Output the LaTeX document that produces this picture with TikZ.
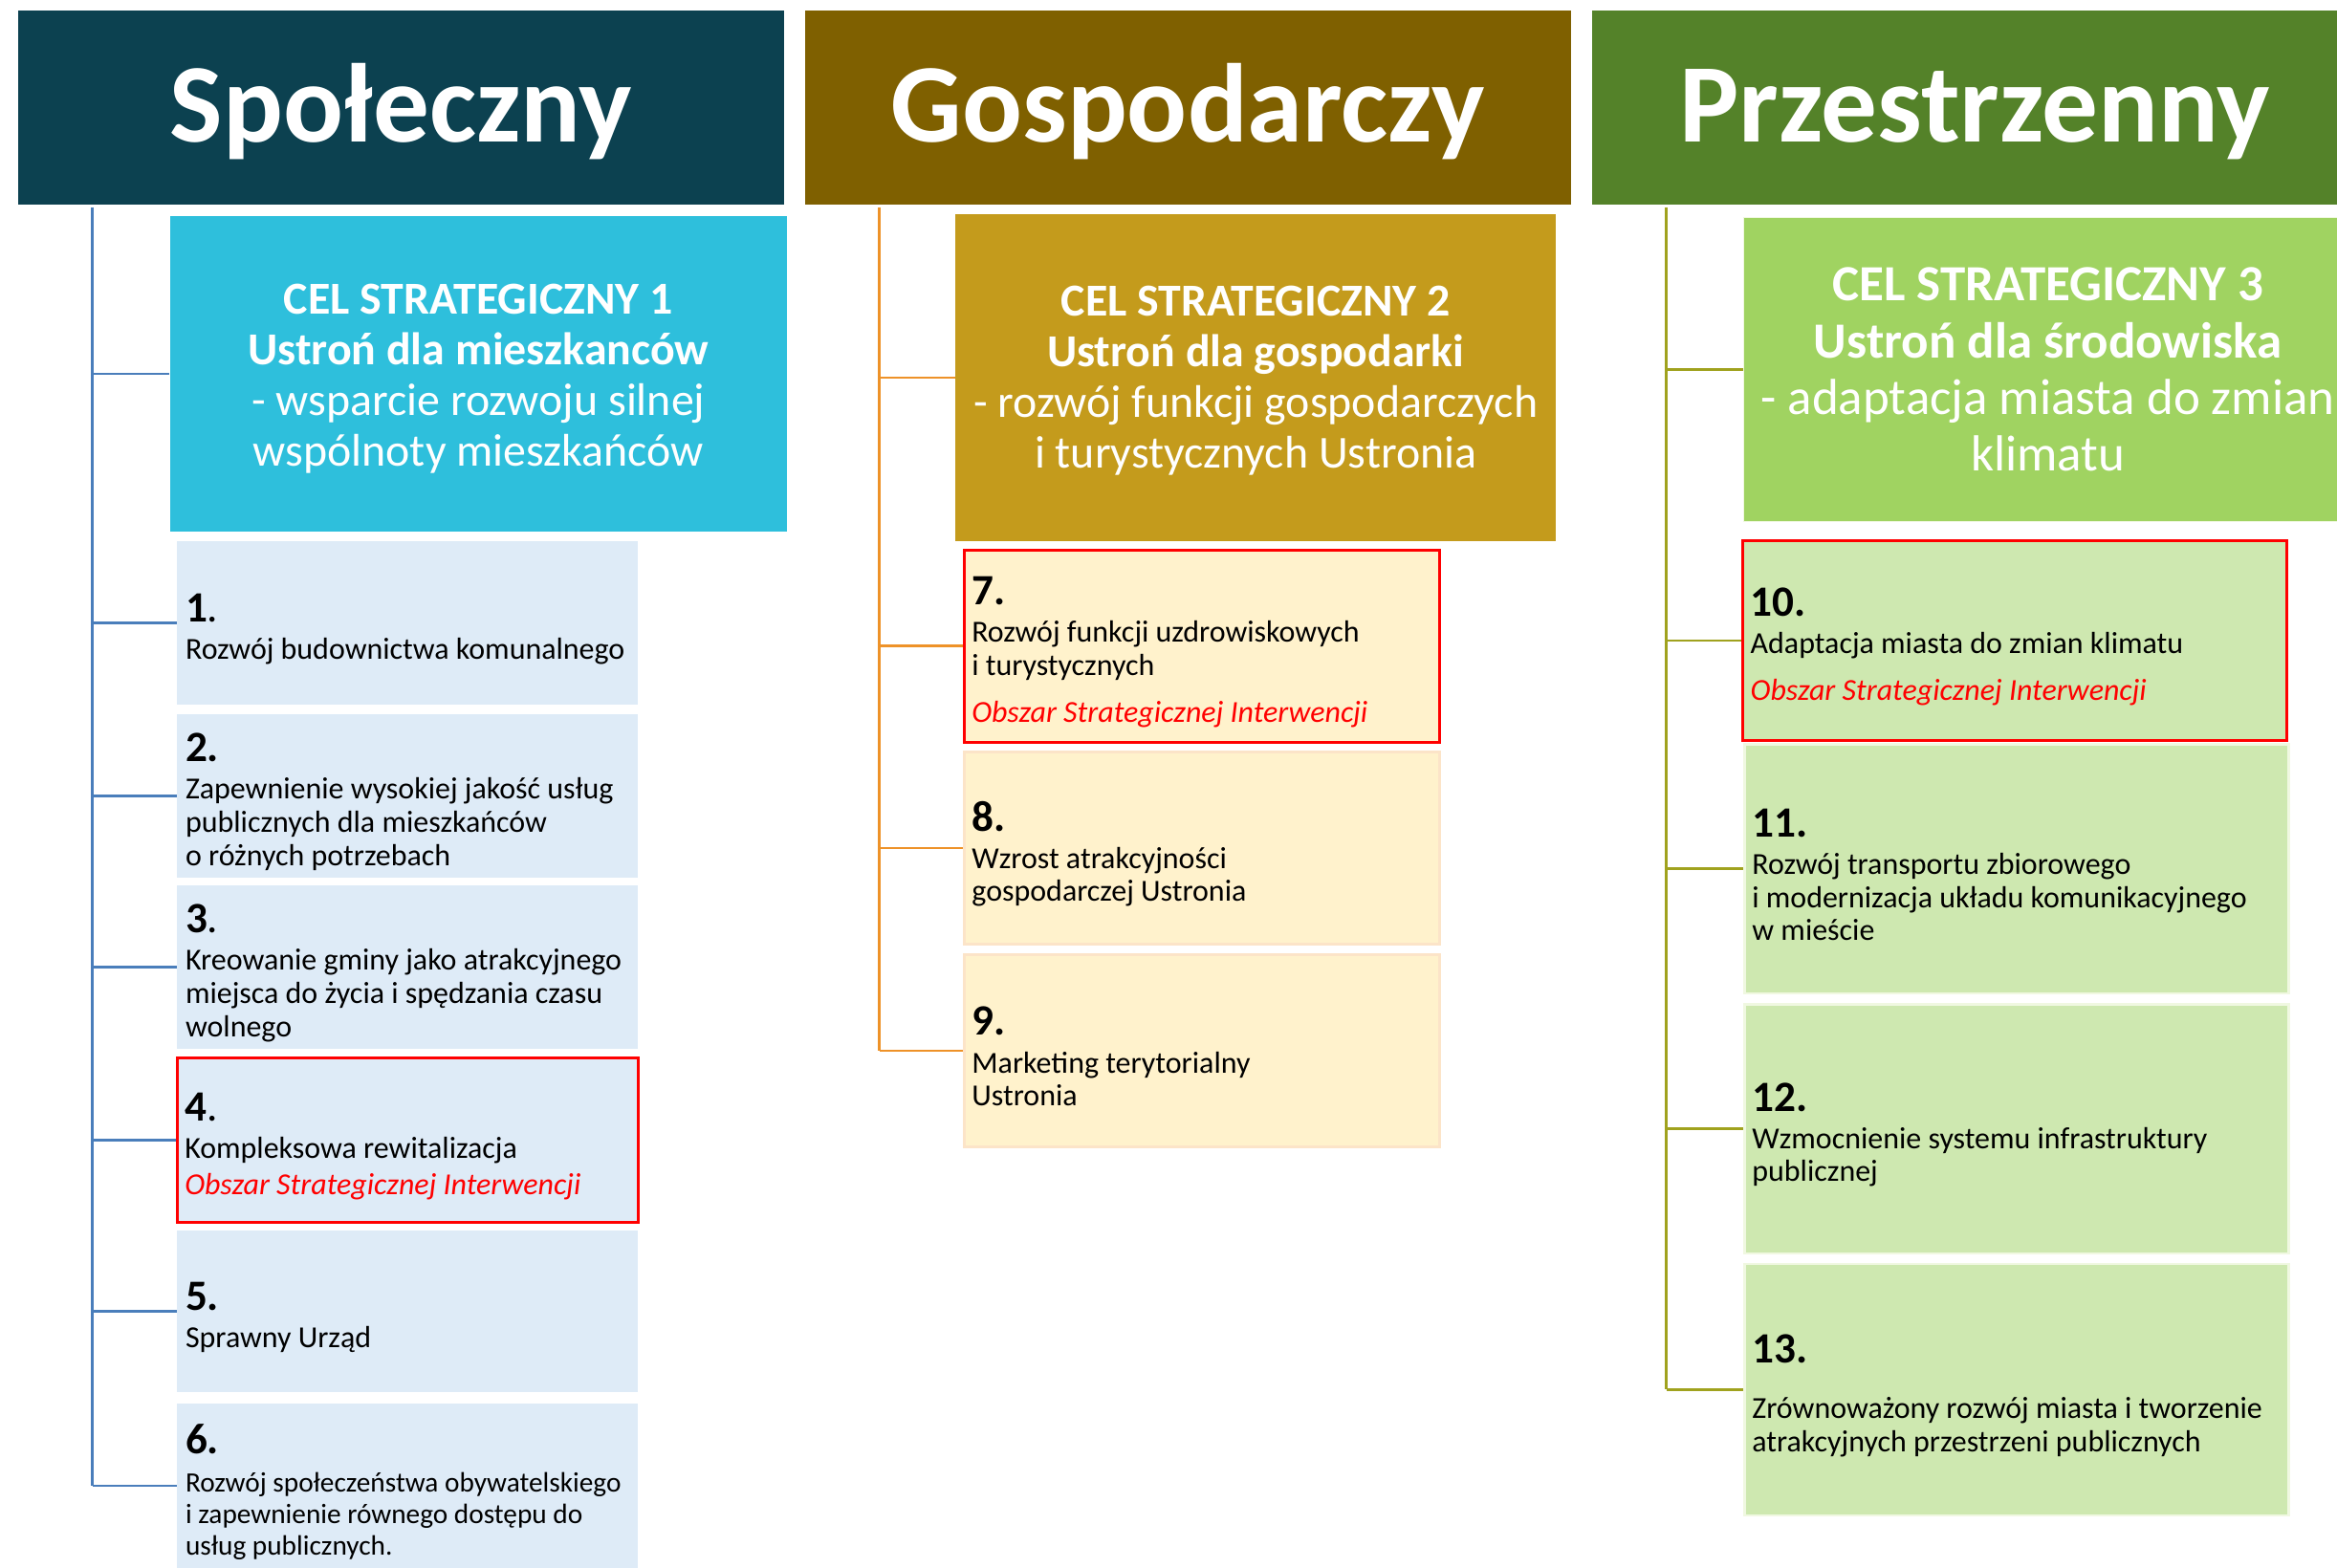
\documentclass[tikz,border=0pt]{standalone}
\usepackage{fontspec}
\setmainfont{Carlito}

\definecolor{spoC}{RGB}{12,65,80}
\definecolor{gosC}{RGB}{127,96,0}
\definecolor{przC}{RGB}{84,130,41}
\definecolor{celA}{RGB}{46,191,220}
\definecolor{celB}{RGB}{196,155,28}
\definecolor{celC}{RGB}{160,211,97}
\definecolor{itmA}{RGB}{222,235,247}
\definecolor{itmB}{RGB}{255,242,204}
\definecolor{itmBd}{RGB}{252,228,200}
\definecolor{itmC}{RGB}{206,232,176}
\definecolor{itmCd}{RGB}{240,248,225}
\definecolor{lineA}{RGB}{74,126,187}
\definecolor{lineB}{RGB}{238,146,40}
\definecolor{lineC}{RGB}{160,162,30}

\newcommand{\numer}[1]{{\fontsize{14.5}{14.5}\selectfont\bfseries #1}}
\newcommand{\numdot}[1]{{\fontsize{14.5}{14.5}\selectfont\textbf{#1}.}}
\newcommand{\ositxt}{{\color{red}\itshape Obszar Strategicznej Interwencji}}

\begin{document}
\begin{tikzpicture}[x=0.5pt, y=-0.5pt,
		hdr/.style = {minimum width=257pt, minimum height=65pt, inner sep=0pt, text=white, font=\fontsize{37.6}{37.6}\selectfont\bfseries, text height=23pt, text depth=0pt},
		cel/.style = {minimum height=106pt, inner sep=0pt, text=white, align=center, font=\fontsize{15.35}{17}\selectfont},
		box/.style = {minimum height=55pt, inner sep=0pt},
		boxA/.style = {box, fill=itmA, minimum width=154.5pt},
		boxB/.style = {box, fill=itmB, draw=itmBd, line width=0.8pt, minimum width=159.5pt, minimum height=64.5pt},
		boxC/.style = {box, fill=itmC, draw=itmCd, line width=0.8pt, minimum width=182.5pt, minimum height=83.5pt},
		osi/.style = {draw=red, line width=0.9pt},
		txt/.style = {anchor=west, inner sep=0pt, align=left, font=\fontsize{10.25}{11.1}\selectfont, xshift=2.75pt, yshift=-2pt},
		linkA/.style = {draw=lineA, line width=0.8pt},
		linkB/.style = {draw=lineB, line width=0.8pt},
		linkC/.style = {draw=lineC, line width=0.8pt}
	]
	\useasboundingbox (0,0) rectangle (1568,1052);
	\clip (0,0) rectangle (1568,1052);

	% naglowki
	\node[hdr, fill=spoC] (spo) at (269,72) {Społeczny};
	\node[hdr, fill=gosC] (gos) at (797,72) {Gospodarczy};
	\node[hdr, fill=przC] (prz) at (1325,72) {Przestrzenny};

	% cele strategiczne
	\node[cel, fill=celA, minimum width=207pt] (cel1) at (321,251)
		{\rule{0pt}{13pt}\textbf{CEL STRATEGICZNY 1}\\ \textbf{Ustroń dla mieszkanców}\\ - wsparcie rozwoju silnej\\ wspólnoty mieszkańców};
	\node[cel, fill=celB, minimum width=201.5pt, minimum height=109.5pt] (cel2) at (842.5,253.5)
		{\rule{0pt}{12pt}\textbf{CEL STRATEGICZNY 2}\\ \textbf{Ustroń dla gospodarki}\\ - rozwój funkcji gospodarczych\\ i turystycznych Ustronia};
	\node[cel, fill=celC, draw=itmCd, minimum width=204pt, minimum height=102pt, font=\fontsize{17}{19}\selectfont] (cel3) at (1374,248)
		{\textbf{CEL STRATEGICZNY 3}\\ \textbf{Ustroń dla środowiska}\\ - adaptacja miasta do zmian\\ klimatu};

	% Społeczny
	\node[boxA] (p1) at (273.5,418) {};
	\node[boxA] (p2) at (273.5,534) {};
	\node[boxA] (p3) at (273.5,649) {};
	\node[boxA, osi] (p4) at (273.5,765) {};
	\node[boxA, minimum height=54pt] (p5) at (273.5,880) {};
	\node[boxA] (p6) at (273.5,997) {};
	\node[txt] (p1t) at (p1.west) {\numdot{1}\\[1.5pt] Rozwój budownictwa komunalnego};
	\node[txt] (p2t) at (p2.west) {\numer{2.}\\[1.5pt] Zapewnienie wysokiej jakość usług\\ publicznych dla mieszkańców\\ o różnych potrzebach};
	\node[txt] (p3t) at (p3.west) {\numdot{3}\\[1.5pt] Kreowanie gminy jako atrakcyjnego\\ miejsca do życia i spędzania czasu\\ wolnego};
	\node[txt] (p4t) at (p4.west) {\numdot{4}\\[1.5pt] Kompleksowa rewitalizacja\\[1pt] \ositxt};
	\node[txt] (p5t) at (p5.west) {\numer{5.}\\[1.5pt] Sprawny Urząd};
	\node[txt, font=\fontsize{9.4}{10.5}\selectfont] (p6t) at (p6.west) {\numer{6.}\\[2.5pt] Rozwój społeczeństwa obywatelskiego\\ i zapewnienie równego dostępu do\\ usług publicznych.};

	% Gospodarczy
	\node[boxB, osi] (p7) at (806.5,433.5) {};
	\node[boxB] (p8) at (806.5,569) {};
	\node[boxB] (p9) at (806.5,705) {};
	\node[txt] (p7t) at (p7.west) {\numer{7.}\\[1.5pt] Rozwój funkcji uzdrowiskowych\\ i turystycznych\\[4.5pt] \ositxt};
	\node[txt] (p8t) at (p8.west) {\numer{8.}\\[1.5pt] Wzrost atrakcyjności\\ gospodarczej Ustronia};
	\node[txt] (p9t) at (p9.west) {\numer{9.}\\[1.5pt] Marketing terytorialny\\ Ustronia};

	% Przestrzenny
	\node[boxC, osi, minimum height=67pt] (p10) at (1352,430) {};
	\node[boxC] (p11) at (1353,583) {};
	\node[boxC] (p12) at (1353,757.5) {};
	\node[boxC, minimum height=84.5pt] (p13) at (1353,932.5) {};
	\node[txt] (p10t) at (p10.west) {\numer{10.}\\[1.5pt] Adaptacja miasta do zmian klimatu\\[4.5pt] \ositxt};
	\node[txt] (p11t) at (p11.west) {\numer{11.}\\[1.5pt] Rozwój transportu zbiorowego\\ i modernizacja układu komunikacyjnego\\ w mieście};
	\node[txt] (p12t) at (p12.west) {\numer{12.}\\[1.5pt] Wzmocnienie systemu infrastruktury\\ publicznej};
	\node[txt] (p13t) at (p13.west) {\numer{13.}\\[7.5pt] Zrównoważony rozwój miasta i tworzenie\\ atrakcyjnych przestrzeni publicznych};

	% linie
	\coordinate (k1) at (62,139);
	\coordinate (k2) at (590,139);
	\coordinate (k3) at (1118,139);
	\draw[linkA] (k1) -- (k1 |- p6.west);
	\draw[linkB] (k2) -- (k2 |- p9.west);
	\draw[linkC] (k3) -- (k3 |- p13.west);
	\foreach \n in {cel1,p1,p2,p3,p4,p5,p6}
		\draw[linkA] (k1 |- \n.west) -- (\n.west);
	\foreach \n in {cel2,p7,p8,p9}
		\draw[linkB] (k2 |- \n.west) -- (\n.west);
	\foreach \n in {cel3,p10,p11,p12,p13}
		\draw[linkC] (k3 |- \n.west) -- (\n.west);
\end{tikzpicture}
\end{document}
